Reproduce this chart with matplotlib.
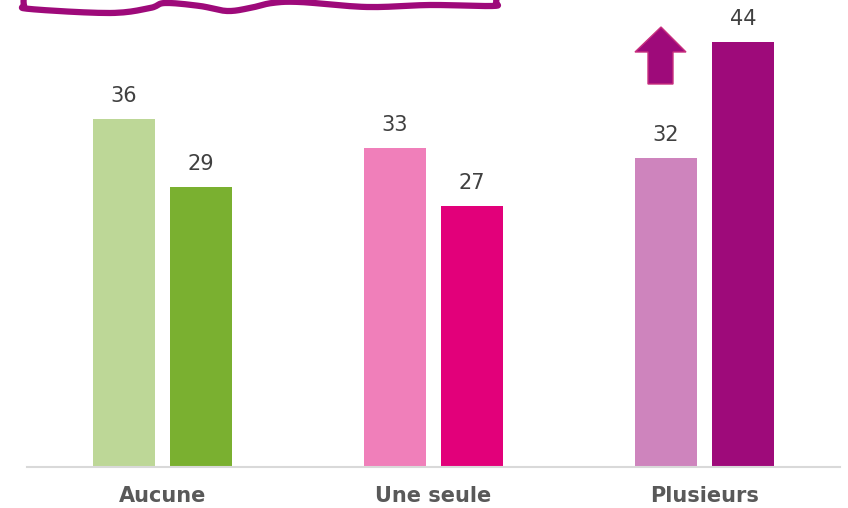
import numpy as np
import matplotlib
matplotlib.use("Agg")
from matplotlib import pyplot as plt
from matplotlib.patches import Polygon
from matplotlib.lines import Line2D

# data
categories = ["Aucune", "Une seule", "Plusieurs"]
serie_a = [36, 33, 32]
serie_b = [29, 27, 44]
colors_a = ["#BDD797", "#F07FBA", "#CE84BD"]
colors_b = ["#7AB030", "#E2007A", "#9E0A7A"]

W, H = 848, 508
fig = plt.figure(figsize=(W / 100, H / 100), dpi=100)
ax = fig.add_axes([27 / W, (H - 467) / H, (840 - 27) / W, 467 / H])

width = 0.228
off = 0.1418
x = np.arange(len(categories))
bars_a = ax.bar(x - off, serie_a, width, color=colors_a)
bars_b = ax.bar(x + off, serie_b, width, color=colors_b)

for bars, vals in ((bars_a, serie_a), (bars_b, serie_b)):
	for b, v in zip(bars, vals):
		ax.annotate(str(v), (b.get_x() + b.get_width() / 2, v), xytext=(0, 9.5),
			textcoords="offset points", ha="center", va="bottom",
			fontsize=15, color="#404040")

ax.set_xlim(-0.5, 2.5)
ax.set_ylim(0, 48.35)
ax.set_xticks(x)
ax.set_xticklabels(categories, fontsize=15, fontweight="bold", color="#595959")
ax.tick_params(axis="x", length=0, pad=14)
ax.set_yticks([])
for side in ["top", "right", "left"]:
	ax.spines[side].set_visible(False)
ax.spines["bottom"].set_color("#D9D9D9")
ax.spines["bottom"].set_linewidth(1.5)

# decoration: wavy bracket at top left
def px(xp, yp):
	return xp / W, 1 - yp / H

def catmull(pts, n=12):
	pts = np.asarray(pts, float)
	p = np.vstack([pts[0], pts, pts[-1]])
	out = []
	for i in range(1, len(p) - 2):
		p0, p1, p2, p3 = p[i - 1], p[i], p[i + 1], p[i + 2]
		for t in np.linspace(0, 1, n, endpoint=False):
			t2, t3 = t * t, t * t * t
			out.append(0.5 * ((2 * p1) + (-p0 + p2) * t + (2 * p0 - 5 * p1 + 4 * p2 - p3) * t2 + (-p0 + 3 * p1 - 3 * p2 + p3) * t3))
	out.append(p[-2])
	return np.array(out)

wave = [(24, -6), (24, 5), (30, 9), (110, 13), (150, 8), (165, 3), (200, 6), (227, 11),
	(250, 8), (272, 3), (300, 2), (367, 7), (430, 5), (492, 6), (496, 3), (496, -6)]
curve = catmull(wave)
cx, cy = zip(*[px(a, b) for a, b in curve])
fig.add_artist(Line2D(cx, cy, transform=fig.transFigure, color="#9E0A7A", lw=4.5,
	solid_capstyle="round", solid_joinstyle="round"))

# decoration: up arrow
arrow = [(661, 27), (686, 52), (673, 52), (673, 84), (648, 84), (648, 52), (635, 52)]
fig.add_artist(Polygon([px(a, b) for a, b in arrow], closed=True, transform=fig.transFigure,
	facecolor="#9E0A7A", edgecolor="#C8307E", lw=1))

fig.savefig("out.png", dpi=100)
